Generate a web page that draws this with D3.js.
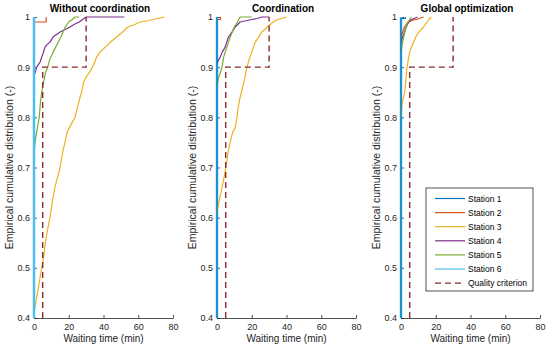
<!DOCTYPE html>
<html>
<head>
<meta charset="utf-8">
<script src="https://cdn.jsdelivr.net/npm/d3@7"></script>
<style>
  body { margin: 0; background: #fff; }
  svg { font-family: "Liberation Sans", Arial, sans-serif; }
</style>
</head>
<body>
<div id="chart"></div>
<script>
// ---- data: [waiting time (min), cumulative share] ----
const panelTitles = ["Without coordination", "Coordination", "Global optimization"];
const stationNames = ["Station 1", "Station 2", "Station 3", "Station 4", "Station 5", "Station 6"];
const xTicks = [0, 20, 40, 60, 80];
const yTicks = [0.4, 0.5, 0.6, 0.7, 0.8, 0.9, 1];
const qualityCriterion = [[5, 0.4], [5, 0.9], [30, 0.9], [30, 1]];

const noCoordS1 = [[0, 0.4], [0, 1]];
const noCoordS2 = [[0, 0.99], [7, 0.99], [7, 1]];
const noCoordS3 = [[0, 0.41], [1, 0.43], [2, 0.45], [3, 0.47], [4.4, 0.5], [5.5, 0.52], [6.5, 0.55], [8, 0.58],
  [9.2, 0.6], [10.5, 0.63], [12, 0.66], [13.5, 0.68], [15, 0.7], [16.5, 0.73], [17.8, 0.75], [19, 0.77],
  [20.5, 0.78], [22, 0.79], [23.6, 0.8], [25, 0.82], [26.5, 0.84], [27.4, 0.85], [28.5, 0.87], [30, 0.88],
  [32, 0.89], [33.5, 0.9], [35, 0.91], [36, 0.92], [38, 0.93], [41, 0.94], [44, 0.95], [47.5, 0.96],
  [51, 0.97], [54, 0.98], [58, 0.985], [61, 0.99], [66, 0.993], [71, 0.997], [75, 1]];
const noCoordS4 = [[0, 0.885], [0.8, 0.89], [1.5, 0.9], [2.5, 0.905], [3.5, 0.91], [4.4, 0.92], [5.5, 0.93],
  [6.3, 0.94], [7.5, 0.945], [9.2, 0.95], [11, 0.96], [13, 0.965], [15, 0.97], [18, 0.975], [20.7, 0.98],
  [23, 0.985], [26, 0.99], [28, 0.995], [30, 1], [52, 1]];
const noCoordS5 = [[0, 0.73], [1, 0.76], [2, 0.78], [3, 0.8], [3.7, 0.83], [4.4, 0.85], [5.5, 0.87], [6.7, 0.89],
  [7.9, 0.9], [9, 0.915], [11, 0.93], [12.5, 0.94], [14, 0.95], [15.5, 0.96], [16.7, 0.97], [18, 0.98],
  [20, 0.99], [22, 0.995], [23.6, 1], [26, 1]];
const noCoordS6 = [[0, 0.4], [0, 1]];

const coordS1 = [[0, 0.4], [0, 1]];
const coordS2 = [[0, 0.995], [2, 0.995], [2, 1]];
const coordS3 = [[0, 0.61], [1, 0.63], [2.3, 0.65], [3.5, 0.67], [5.1, 0.7], [6.3, 0.73], [7.6, 0.75], [9, 0.77],
  [10.5, 0.78], [11.5, 0.8], [12.2, 0.82], [13, 0.835], [14, 0.85], [15.5, 0.87], [17.2, 0.9], [18.5, 0.915],
  [20, 0.93], [22, 0.95], [24, 0.96], [25.8, 0.97], [29, 0.98], [32.3, 0.99], [35, 0.995], [40, 1]];
const coordS4 = [[0, 0.908], [1, 0.915], [1.9, 0.92], [3, 0.93], [4.7, 0.94], [5.6, 0.95], [6.6, 0.96],
  [8.6, 0.97], [10.5, 0.98], [13.3, 0.99], [16, 0.992], [20, 0.995], [23, 0.997], [25.8, 1], [30, 1]];
const coordS5 = [[0, 0.863], [1, 0.88], [2, 0.89], [2.9, 0.9], [3.8, 0.92], [4.7, 0.93], [5.7, 0.94], [6.6, 0.95],
  [7.6, 0.96], [8.8, 0.97], [9.9, 0.98], [11.8, 0.99], [12.5, 0.995], [13.3, 1], [20, 1]];
const coordS6 = [[0, 0.4], [0, 1]];

const globalS1 = [[0, 0.4], [0, 0.997], [2.5, 0.997], [2.5, 1]];
const globalS2 = [[0, 0.96], [1, 0.97], [2, 0.98], [4, 0.99], [8, 0.995], [9, 0.995], [13, 1]];
const globalS3 = [[0, 0.8], [0.5, 0.82], [1, 0.835], [1.5, 0.84], [2.1, 0.85], [2.8, 0.875], [3.5, 0.9],
  [4.2, 0.915], [5, 0.93], [6, 0.94], [7.3, 0.95], [8.5, 0.96], [10.2, 0.97], [11.5, 0.975], [13, 0.98],
  [15, 0.99], [16, 0.995], [17.3, 1]];
const globalS4 = [[0, 0.95], [1, 0.96], [2, 0.97], [3, 0.98], [4.5, 0.99], [6, 0.995], [9.6, 1]];
const globalS5 = [[0, 0.93], [0.7, 0.945], [1.5, 0.96], [2.2, 0.97], [3, 0.98], [4, 0.99], [5, 0.995], [6, 1]];
const globalS6 = [[0, 0.4], [0, 1]];

const panelSeries = [
  [noCoordS1, noCoordS2, noCoordS3, noCoordS4, noCoordS5, noCoordS6],
  [coordS1, coordS2, coordS3, coordS4, coordS5, coordS6],
  [globalS1, globalS2, globalS3, globalS4, globalS5, globalS6]
];
// which station sits on top at x = 0 differs between panels
const drawOrder = [
  [0, 1, 2, 3, 4, 5],
  [5, 1, 2, 3, 4, 0],
  [5, 1, 2, 3, 4, 0]
];

const colors = ["#0072BD", "#D95319", "#EDB120", "#7E2F8E", "#77AC30", "#4DBEEE"];
const widths = [1.2, 1.2, 1.2, 1.2, 1.2, 2.5];
const critColor = "#8a2b2b";
const axisColor = "#262626";

// ---- layout ----
const width = 550, height = 349;
const panelLeft = [34, 217, 401];
const panelW = 139;
const plotTop = 17, plotBottom = 318;

const svg = d3.select("#chart").append("svg")
  .attr("width", width).attr("height", height);

const y = d3.scaleLinear().domain([0.4, 1]).range([plotBottom, plotTop]);

panelSeries.forEach((series, p) => {
  const x = d3.scaleLinear().domain([0, 80]).range([panelLeft[p], panelLeft[p] + panelW]);
  const g = svg.append("g");

  // axes first (ticks inward, no box), lines drawn over them
  const xAxis = g.append("g").attr("transform", "translate(0," + plotBottom + ")")
    .call(d3.axisBottom(x).tickValues(xTicks).tickSizeInner(-3).tickSizeOuter(0).tickPadding(6));
  const yAxis = g.append("g").attr("transform", "translate(" + panelLeft[p] + ",0)")
    .call(d3.axisLeft(y).tickValues(yTicks).tickFormat(d3.format("")).tickSizeInner(-3).tickSizeOuter(0).tickPadding(4));
  [xAxis, yAxis].forEach(a => {
    a.select(".domain").attr("stroke", axisColor).attr("stroke-width", 0.8);
    a.selectAll(".tick line").attr("stroke", axisColor).attr("stroke-width", 0.8);
    a.selectAll("text").attr("fill", axisColor).style("font-size", "9px").style("font-family", "inherit");
  });

  const clipId = "clip" + p;
  svg.append("clipPath").attr("id", clipId)
    .append("rect").attr("x", panelLeft[p] - 2).attr("y", plotTop - 2)
    .attr("width", panelW + 4).attr("height", plotBottom - plotTop + 2);

  const line = d3.line().x(d => x(d[0])).y(d => y(d[1]));

  const plot = g.append("g").attr("clip-path", "url(#" + clipId + ")");
  drawOrder[p].forEach(i => {
    plot.append("path").datum(series[i])
      .attr("d", line)
      .attr("fill", "none")
      .attr("stroke", colors[i])
      .attr("stroke-width", widths[i])
      .attr("stroke-linejoin", "round");
  });

  plot.append("path").datum(qualityCriterion)
    .attr("d", line)
    .attr("fill", "none")
    .attr("stroke", critColor)
    .attr("stroke-width", 1.4)
    .attr("stroke-dasharray", "6,4");

  g.append("text")
    .attr("x", panelLeft[p] + panelW / 2).attr("y", 342)
    .attr("text-anchor", "middle").attr("fill", axisColor)
    .style("font-size", "10px")
    .text("Waiting time (min)");

  g.append("text")
    .attr("transform", "translate(" + (panelLeft[p] - 21) + "," + ((plotTop + plotBottom) / 2) + ") rotate(-90)")
    .attr("text-anchor", "middle").attr("fill", axisColor)
    .style("font-size", "10.5px")
    .text("Empirical cumulative distribution (-)");

  g.append("text")
    .attr("x", panelLeft[p] + 66).attr("y", 12)
    .attr("text-anchor", "middle").attr("fill", "#000")
    .style("font-size", "10px").style("font-weight", "bold")
    .text(panelTitles[p]);
});

// ---- legend ----
const legend = svg.append("g");
legend.append("rect")
  .attr("x", 426).attr("y", 188).attr("width", 107).attr("height", 103)
  .attr("fill", "#fff").attr("stroke", axisColor).attr("stroke-width", 0.8);

const legendItems = stationNames.map((n, i) => ({ name: n, color: colors[i], dash: null }))
  .concat([{ name: "Quality criterion", color: critColor, dash: "6,4" }]);

legendItems.forEach((d, i) => {
  const ly = 198.5 + i * 14.1;
  legend.append("line")
    .attr("x1", 435).attr("x2", 465).attr("y1", ly).attr("y2", ly)
    .attr("stroke", d.color).attr("stroke-width", d.dash ? 1.4 : 1.2)
    .attr("stroke-dasharray", d.dash);
  legend.append("text")
    .attr("x", 468).attr("y", ly + 3)
    .attr("fill", "#000").style("font-size", "8.5px")
    .text(d.name);
});
</script>
</body>
</html>
